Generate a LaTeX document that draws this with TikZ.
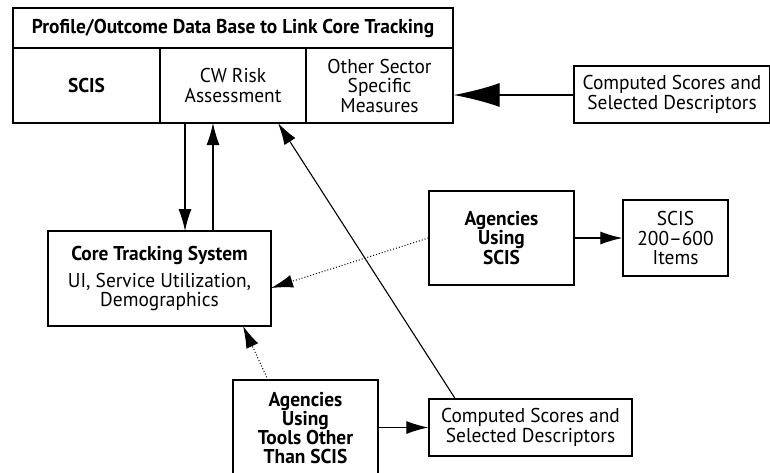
\documentclass[tikz,border=0pt]{standalone}
\usepackage{fontspec}
\setmainfont{PT Sans}[FakeStretch=0.97]
\usetikzlibrary{arrows.meta}
\tikzset{
  box/.style={draw, line width=1.3pt, inner sep=0pt, align=center, font=\fontsize{20}{19.5}\selectfont},
  conn/.style={line width=1.1pt, -{Latex[length=22pt,width=13pt]}},
  bigconn/.style={line width=1.1pt, -{Latex[length=46pt,width=24pt]}},
  dotconn/.style={line width=1pt, dotted, -{Latex[length=22pt,width=13pt]}},
  bold/.style={font=\fontsize{20}{19.5}\selectfont\bfseries},
}
\begin{document}
\begin{tikzpicture}[x=1pt,y=-1pt]
\useasboundingbox (0,0) rectangle (770,472);
% top box
\node[box, bold, minimum width=440pt, minimum height=40pt] (title) at (233,28) {Profile/Outcome Data Base to Link Core Tracking};
\node[box, bold, minimum width=147pt, minimum height=75pt] (scis) at (86.5,85.5) {SCIS};
\node[box, minimum width=146pt, minimum height=75pt] (cw) at (233,85.5) {CW Risk\\Assessment};
\node[box, minimum width=147pt, minimum height=75pt] (other) at (379.5,85.5) {Other Sector\\Specific\\Measures};
% right top
\node[box, minimum width=196pt, minimum height=57pt] (cs1) at (672,94.5) {Computed Scores and\\Selected Descriptors};
% core
\node[box, minimum width=223pt, minimum height=95pt] (core) at (159.5,278.5) {\textbf{Core Tracking System}\\[7pt]UI, Service Utilization,\\Demographics};
% agencies using SCIS
\node[box, bold, minimum width=145pt, minimum height=94pt] (ag1) at (501.5,238) {Agencies\\Using\\SCIS};
\node[box, minimum width=105pt, minimum height=76pt] (items) at (675.5,238) {SCIS\\200--600\\Items};
% agencies other tools
\node[box, minimum width=145pt, minimum height=96pt, font=\fontsize{20}{18.5}\selectfont\bfseries] (ag2) at (305.5,428) {Agencies\\Using\\Tools Other\\Than SCIS};
\node[box, minimum width=203pt, minimum height=57pt] (cs2) at (530.5,427.5) {Computed Scores and\\Selected Descriptors};
% connectors
\coordinate (p1) at (453,95);
\draw[bigconn] (cs1.west |- p1) -- (other.east |- p1);
\draw[conn] (185,123) -- (185,231);
\draw[conn] (213,231) -- (213,123);
\draw[conn] (cs2.north -| 455,0) -- (278,123);
\draw[conn] (ag1.east) -- (items.west);
\draw[dotconn] (ag1.west) -- (271,288);
\draw[dotconn] (268,380) -- (243,326);
\draw[conn] (ag2.east |- cs2.west) -- (cs2.west);
\end{tikzpicture}
\end{document}
